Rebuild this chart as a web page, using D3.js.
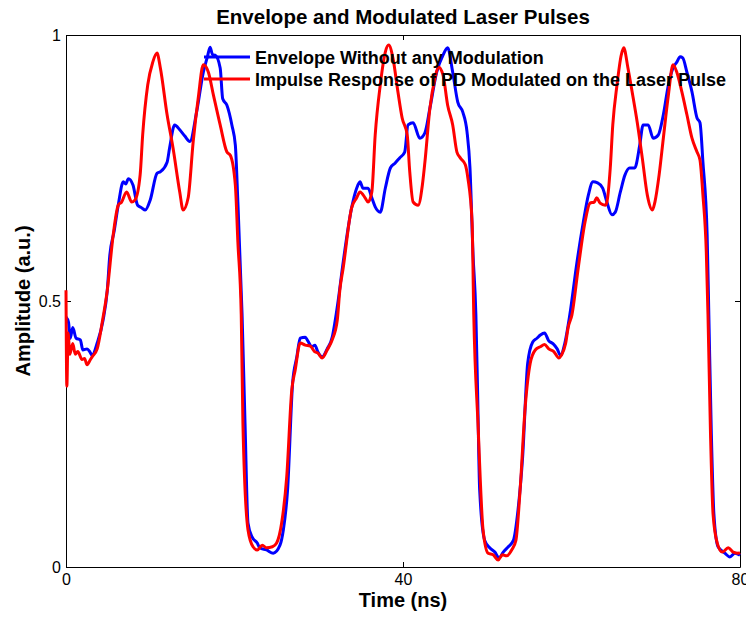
<html>
<head>
    <title>Envelope and Modulated Laser Pulses</title>
    <script src="https://d3js.org/d3.v7.min.js"></script>
    <style>
        body {
            font-family: "Liberation Sans", Arial, sans-serif;
            margin: 0;
            background-color: white;
        }
        svg {
            display: block;
        }
        .tick text {
            font-size: 16px;
            font-family: "Liberation Sans", Arial, sans-serif;
        }
    </style>
</head>
<body>
    <svg id="chart"></svg>

    <script>
        // tick labels
        const xTicks = [0, 40, 80];
        const yTicks = [0, 0.5, 1];

        const seriesNames = [
            "Envelope Without any Modulation",
            "Impulse Response of PD Modulated on the Laser Pulse"
        ];
        const seriesColors = ["#0000ff", "#ff0000"];

        // envelope (blue), time in ns
        const envTime = [0, 0.3, 0.5, 0.8, 1.2, 1.7, 2.0, 2.5, 2.85, 3.1, 3.7, 4.4, 4.9, 5.2, 5.7, 6.2, 6.8, 7.1, 7.4, 7.95,
            8.5, 9.0, 9.4, 10, 10.8, 11.2, 12, 12.3, 12.9, 13.5, 14.1, 14.7, 15.5, 16.3, 16.8, 17.1, 17.4, 17.7, 18.3, 18.6,
            19.1, 19.7, 20.1, 20.4, 20.9, 21.25, 21.6, 22.1, 22.7, 23.0, 23.8, 24.6, 25.4, 25.8, 26.3, 26.9, 27.4, 27.8, 28.4, 28.7,
            29.2, 29.55, 29.9, 30.4, 31.0, 31.6, 31.9, 32.3, 32.9, 33.9, 34.5, 34.9, 35.25, 35.85, 36.3, 36.7, 37.3, 37.9, 38.5, 39.05,
            39.6, 40.2, 40.6, 41.2, 42.0, 42.6, 43.2, 44.0, 44.75, 45.3, 45.9, 46.5, 47.1, 47.6, 47.95, 48.3, 48.65, 48.85, 49.1, 49.7,
            50.3, 50.9, 51.4, 51.9, 52.5, 53.1, 53.65, 54.2, 54.8, 55.4, 55.9, 56.3, 56.8, 57.3, 57.8, 58.3, 58.7, 59.2, 59.8, 60.65,
            61.4, 62.0, 62.55, 63.1, 63.7, 64.2, 64.8, 65.2, 65.8, 66.35, 66.9, 67.5, 68.1, 68.5, 69.1, 69.7, 70.3, 70.9, 71.5, 72.05,
            72.5, 72.9, 73.2, 73.7, 74.3, 74.9, 75.25, 75.6, 76.1, 76.3, 76.6, 76.9, 77.4, 78.2, 78.8, 79.4, 80];
        const envAmp = [0.47, 0.46, 0.43, 0.45, 0.43, 0.427, 0.408, 0.41, 0.404, 0.398, 0.421, 0.464, 0.52, 0.586, 0.63, 0.68, 0.724, 0.72, 0.73, 0.718,
            0.68, 0.675, 0.671, 0.69, 0.74, 0.743, 0.761, 0.788, 0.831, 0.822, 0.81, 0.8, 0.855, 0.93, 0.96, 0.977, 0.963, 0.962, 0.938, 0.88,
            0.868, 0.83, 0.793, 0.686, 0.474, 0.27, 0.083, 0.056, 0.045, 0.036, 0.032, 0.026, 0.041, 0.07, 0.145, 0.346, 0.395, 0.43, 0.432, 0.425,
            0.414, 0.417, 0.404, 0.395, 0.41, 0.432, 0.458, 0.5, 0.573, 0.675, 0.712, 0.724, 0.712, 0.712, 0.694, 0.677, 0.667, 0.712, 0.75, 0.759,
            0.769, 0.78, 0.831, 0.835, 0.806, 0.816, 0.863, 0.93, 0.962, 0.976, 0.93, 0.874, 0.855, 0.818, 0.75, 0.592, 0.474, 0.333, 0.145, 0.05,
            0.036, 0.028, 0.017, 0.028, 0.038, 0.05, 0.107, 0.207, 0.383, 0.423, 0.43, 0.436, 0.44, 0.425, 0.42, 0.41, 0.398, 0.42, 0.474, 0.573,
            0.648, 0.699, 0.724, 0.722, 0.712, 0.686, 0.662, 0.667, 0.705, 0.737, 0.75, 0.75, 0.793, 0.831, 0.831, 0.806, 0.812, 0.85, 0.906, 0.938,
            0.949, 0.959, 0.957, 0.93, 0.893, 0.844, 0.835, 0.761, 0.624, 0.474, 0.25, 0.1, 0.038, 0.026, 0.019, 0.026, 0.022];

        // impulse response modulated (red)
        const modTime = [0, 0.1, 0.25, 0.45, 0.8, 1.1, 1.4, 1.9, 2.2, 2.5, 2.9, 3.1, 3.7, 4.3, 4.9, 5.6, 6.2, 6.6, 7.2, 7.8,
            8.2, 8.8, 9.1, 9.7, 10.3, 10.8, 11.2, 12, 12.7, 13.5, 13.9, 14.5, 15.1, 15.7, 16.3, 16.9, 17.5, 18.3, 19.1, 19.5,
            20.1, 20.4, 20.8, 21.0, 21.6, 22.2, 22.7, 23.3, 23.8, 24.5, 25.0, 25.6, 26.2, 26.8, 27.2, 27.8, 28.4, 29.0, 29.5, 29.9,
            30.4, 31.0, 31.6, 32.2, 32.5, 32.9, 33.9, 34.5, 34.9, 35.5, 35.85, 36.3, 36.7, 37.3, 37.9, 38.3, 38.8, 39.4, 39.9, 40.5,
            40.8, 41.2, 41.8, 42.3, 42.6, 43.2, 43.8, 44.2, 44.75, 45.3, 45.9, 46.4, 46.8, 47.4, 47.7, 48.2, 48.4, 48.9, 49.5, 50.1,
            50.7, 51.3, 51.8, 52.3, 52.9, 53.4, 53.9, 54.5, 55.1, 55.7, 56.3, 56.8, 57.3, 57.9, 58.5, 58.8, 59.3, 59.6, 60.05, 60.8,
            61.6, 62.2, 62.7, 63.0, 63.4, 64.0, 64.2, 64.6, 64.9, 65.4, 65.9, 66.2, 66.7, 67.2, 67.8, 68.4, 69.0, 69.6, 69.9, 70.4,
            70.9, 71.5, 72.05, 72.5, 73.1, 73.7, 74.3, 74.9, 75.25, 75.6, 76.0, 76.2, 76.5, 76.8, 77.3, 77.9, 78.6, 79.2, 79.8, 80];
        const modAmp = [0.52, 0.34, 0.44, 0.40, 0.42, 0.40, 0.405, 0.39, 0.392, 0.38, 0.39, 0.395, 0.41, 0.46, 0.52, 0.624, 0.68, 0.686, 0.705, 0.686,
            0.69, 0.737, 0.812, 0.906, 0.949, 0.966, 0.938, 0.85, 0.788, 0.705, 0.671, 0.694, 0.8, 0.882, 0.944, 0.93, 0.887, 0.831, 0.78, 0.774,
            0.718, 0.611, 0.474, 0.27, 0.07, 0.038, 0.032, 0.041, 0.036, 0.038, 0.045, 0.083, 0.17, 0.333, 0.37, 0.421, 0.417, 0.415, 0.405, 0.402,
            0.393, 0.408, 0.427, 0.464, 0.52, 0.562, 0.675, 0.694, 0.705, 0.694, 0.686, 0.705, 0.812, 0.906, 0.968, 0.981, 0.957, 0.893, 0.844, 0.812,
            0.743, 0.686, 0.68, 0.718, 0.761, 0.863, 0.919, 0.94, 0.925, 0.868, 0.831, 0.78, 0.769, 0.756, 0.731, 0.648, 0.474, 0.27, 0.07, 0.026,
            0.023, 0.013, 0.023, 0.021, 0.032, 0.05, 0.145, 0.3, 0.383, 0.408, 0.414, 0.418, 0.41, 0.405, 0.393, 0.398, 0.42, 0.45, 0.474, 0.562,
            0.648, 0.684, 0.686, 0.694, 0.684, 0.68, 0.686, 0.75, 0.831, 0.906, 0.962, 0.976, 0.938, 0.893, 0.836, 0.769, 0.699, 0.671, 0.686, 0.737,
            0.806, 0.887, 0.944, 0.93, 0.893, 0.85, 0.806, 0.78, 0.765, 0.699, 0.592, 0.474, 0.25, 0.1, 0.045, 0.028, 0.036, 0.028, 0.026, 0.027];

        const W = 746, H = 617;
        const margin = { top: 35, right: 6, bottom: 50, left: 66 };
        const width = W - margin.left - margin.right;
        const height = H - margin.top - margin.bottom;

        const root = d3.select("#chart")
            .attr("width", W)
            .attr("height", H);

        const svg = root.append("g")
            .attr("transform", "translate(" + margin.left + "," + margin.top + ")");

        const x = d3.scaleLinear().domain([0, 80]).range([0, width]);
        const y = d3.scaleLinear().domain([0, 1]).range([height, 0]);

        // axes, ticks pointing inward like matlab
        svg.append("g")
            .attr("transform", "translate(0," + height + ")")
            .call(d3.axisBottom(x).tickValues(xTicks).tickSizeInner(-5).tickSizeOuter(0).tickPadding(7).tickFormat(d3.format("d")));
        svg.append("g")
            .call(d3.axisTop(x).tickValues(xTicks).tickSizeInner(-5).tickSizeOuter(0).tickFormat(""));
        svg.append("g")
            .call(d3.axisLeft(y).tickValues(yTicks).tickSizeInner(-5).tickSizeOuter(0).tickPadding(5).tickFormat(d => d));
        svg.append("g")
            .attr("transform", "translate(" + width + ",0)")
            .call(d3.axisRight(y).tickValues(yTicks).tickSizeInner(-5).tickSizeOuter(0).tickFormat(""));

        svg.selectAll(".domain").style("stroke", "black");
        svg.selectAll(".tick line").style("stroke", "black");

        // lines
        const series = [
            envTime.map((t, i) => ({ t: t, v: envAmp[i] })),
            modTime.map((t, i) => ({ t: t, v: modAmp[i] }))
        ];

        const line = d3.line()
            .x(d => x(d.t))
            .y(d => y(d.v))
            .curve(d3.curveMonotoneX);

        svg.selectAll(".series")
            .data(series)
            .enter()
            .append("path")
            .attr("class", "series")
            .attr("d", line)
            .attr("fill", "none")
            .attr("stroke", (d, i) => seriesColors[i])
            .attr("stroke-width", 3)
            .attr("stroke-linejoin", "round");

        // legend, no box
        const legend = svg.append("g")
            .attr("transform", "translate(138,22)");
        seriesNames.forEach((name, i) => {
            legend.append("line")
                .attr("x1", 0).attr("x2", 46)
                .attr("y1", i * 22).attr("y2", i * 22)
                .attr("stroke", seriesColors[i])
                .attr("stroke-width", 3);
            legend.append("text")
                .attr("x", 51)
                .attr("y", i * 22 + 6.5)
                .style("font-size", "18px")
                .style("font-weight", "bold")
                .text(name);
        });

        // title and axis labels
        root.append("text")
            .attr("x", margin.left + width / 2)
            .attr("y", 24)
            .attr("text-anchor", "middle")
            .style("font-size", "20.5px")
            .style("font-weight", "bold")
            .text("Envelope and Modulated Laser Pulses");

        root.append("text")
            .attr("x", margin.left + width / 2)
            .attr("y", 607)
            .attr("text-anchor", "middle")
            .style("font-size", "20px")
            .style("font-weight", "bold")
            .text("Time (ns)");

        root.append("text")
            .attr("transform", "translate(30," + (margin.top + height / 2) + ") rotate(-90)")
            .attr("text-anchor", "middle")
            .style("font-size", "20px")
            .style("font-weight", "bold")
            .text("Amplitude (a.u.)");
    </script>
</body>
</html>
